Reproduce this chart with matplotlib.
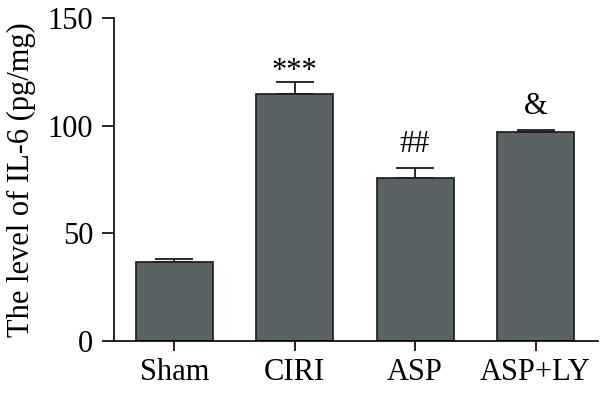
import numpy as np
from matplotlib import pyplot as plt

groups = ["Sham", "CIRI", "ASP", "ASP+LY"]
il6_mean = [36.8, 114.7, 75.5, 97.2]
il6_err = [1.4, 5.4, 5.0, 0.8]
marks = ["", "***", "##", "&"]

plt.rcParams['font.family'] = ['Liberation Serif', 'DejaVu Serif']

fig = plt.figure(figsize=(6.0, 3.95), dpi=100)
ax = fig.add_axes([0.19, 0.1367, 0.807, 0.8177])

x = np.arange(len(groups))
ax.bar(x, il6_mean, width=0.64, color="#5b6263", edgecolor="#1a1a1a", linewidth=1.2, zorder=2)
ax.errorbar(x, il6_mean, yerr=[np.zeros(len(x)), il6_err], fmt="none",
            ecolor="#1a1a1a", elinewidth=1.3, capsize=14, capthick=1.3, zorder=1)

# significance marks above the error bars (asterisks sit high, so less gap)
for xi, m, e, s in zip(x, il6_mean, il6_err, marks):
    if s:
        gap = -1.5 if s == "***" else 4
        ax.text(xi, m + e + gap, s, ha="center", va="bottom", fontsize=22)

ax.set_xlim(-0.5, 3.52)
ax.set_ylim(0, 150)
ax.set_yticks([0, 50, 100, 150])
ax.set_xticks(x)
ax.set_xticklabels(groups)
ax.set_ylabel("The level of IL-6 (pg/mg)", fontsize=22, labelpad=8)

ax.spines['top'].set_visible(False)
ax.spines['right'].set_visible(False)
ax.spines['left'].set_linewidth(1.2)
ax.spines['bottom'].set_linewidth(1.2)
ax.tick_params(axis='y', direction='out', length=9, width=1.2, labelsize=22, pad=6)
ax.tick_params(axis='x', direction='out', length=7, width=1.2, labelsize=22, pad=5)

fig.savefig("out.png", dpi=100)
